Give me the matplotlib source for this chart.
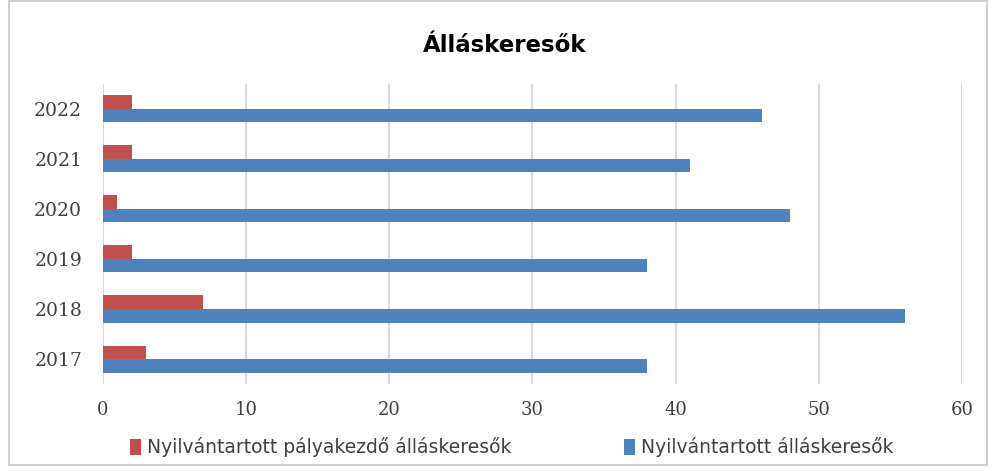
import matplotlib.pyplot as plt
import numpy as np
from matplotlib.patches import Rectangle

years = ['2017', '2018', '2019', '2020', '2021', '2022']
palyakezdo = [3, 7, 2, 1, 2, 2]
osszes = [38, 56, 38, 48, 41, 46]

fig = plt.figure(figsize=(9.93, 4.71), dpi=100)
ax = fig.add_axes([0.1037, 0.1847, 0.8651, 0.637])

# kerettel, mint az eredeti diagramon
fig.patches.append(Rectangle((0.009, 0.012), 0.985, 0.985, transform=fig.transFigure,
                             fill=False, edgecolor='#d0d0d0', linewidth=1.5))

y = np.arange(len(years))
h = 0.27
ax.barh(y + h / 2, palyakezdo, height=h, color='#c0504d',
        label='Nyilvántartott pályakezdő álláskeresők', zorder=3)
ax.barh(y - h / 2, osszes, height=h, color='#4f81bd',
        label='Nyilvántartott álláskeresők', zorder=3)

ax.set_xlim(0, 60)
ax.set_ylim(-0.5, 5.5)
ax.set_xticks(range(0, 61, 10))
ax.set_yticks(y)
ax.set_yticklabels(years)
ax.tick_params(axis='y', length=0, labelsize=13.5, colors='#404040', pad=15)
ax.tick_params(axis='x', length=0, labelsize=13, colors='#404040', pad=12)
for lab in ax.get_xticklabels() + ax.get_yticklabels():
    lab.set_family('DejaVu Serif')
ax.grid(axis='x', color='#d9d9d9', linewidth=1.5, zorder=0)
for s in ax.spines.values():
    s.set_visible(False)

fig.text(0.508, 0.903, 'Álláskeresők', ha='center', va='center',
         fontsize=16.5, fontweight='bold', color='black')

handles, labels = ax.get_legend_handles_labels()
fig.legend(handles, labels, loc='center', bbox_to_anchor=(0.515, 0.05), ncol=2,
           frameon=False, fontsize=13.5,
           handlelength=0.6, handleheight=0.9,
           handletextpad=0.3, columnspacing=6.0, labelcolor='#404040')

fig.savefig('out.png', dpi=100)
